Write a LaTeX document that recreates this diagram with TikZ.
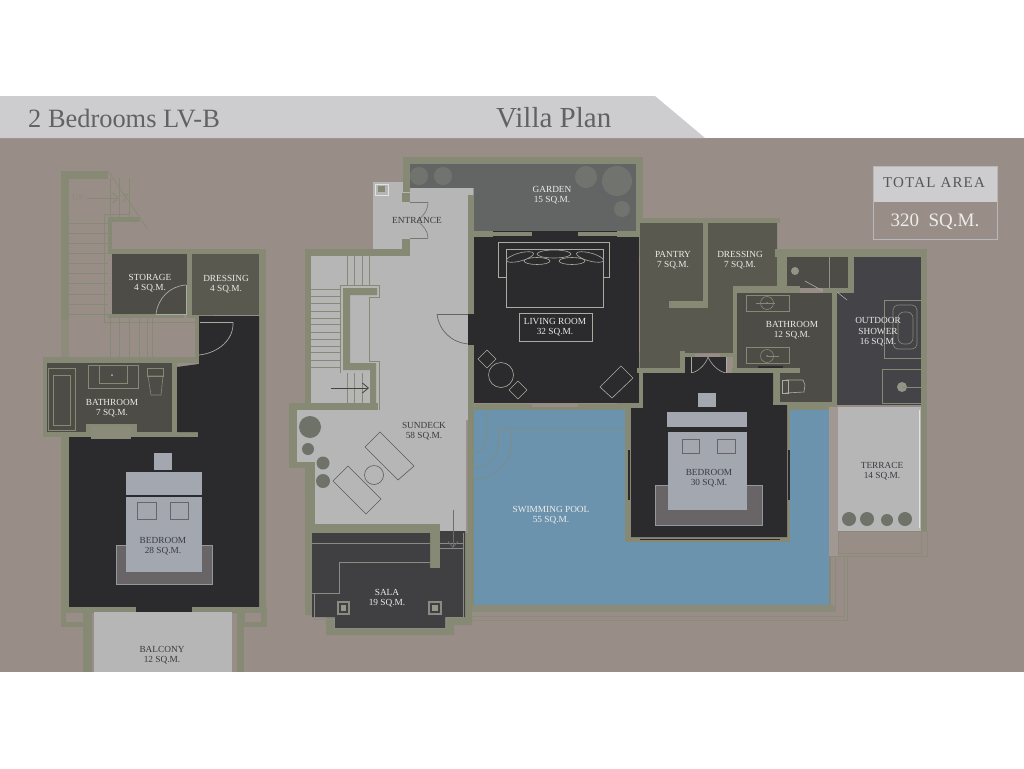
\documentclass[tikz,border=0pt]{standalone}
\usepackage{fontspec}
\setmainfont{Liberation Serif}
\usetikzlibrary{arrows.meta}
\definecolor{groundc}{HTML}{988D87}
\definecolor{bandc}{HTML}{CDCDCF}
\definecolor{wallc}{HTML}{868A75}
\definecolor{deckc}{HTML}{B6B6B6}
\definecolor{blackc}{HTML}{2B2A2C}
\definecolor{roomc}{HTML}{4E4C46}
\definecolor{pantryc}{HTML}{5A594F}
\definecolor{showerc}{HTML}{444347}
\definecolor{salac}{HTML}{403F42}
\definecolor{gardenc}{HTML}{626564}
\definecolor{shrubc}{HTML}{71746E}
\definecolor{poolc}{HTML}{6B93AE}
\definecolor{bedc}{HTML}{A3A8B0}
\definecolor{rugc}{HTML}{696567}
\definecolor{potc}{HTML}{6E7268}
\definecolor{furnc}{HTML}{ABACA0}
\definecolor{darktext}{HTML}{3A3A40}
\definecolor{lighttext}{HTML}{ECECE8}
\tikzset{
  wall/.style={fill=wallc},
  thinline/.style={draw=#1, line width=0.7pt},
  thinline/.default=wallc,
  furn/.style={draw=#1, line width=0.6pt},
  furn/.default=furnc,
  lbl/.style={font=\fontsize{9.3}{10.6}\selectfont, align=center, inner sep=0pt},
  darklbl/.style={lbl, text=darktext},
  lightlbl/.style={lbl, text=lighttext},
  openarrow/.style={-{Straight Barb[length=6pt,width=10pt]}, line width=0.8pt},
}
\begin{document}
\begin{tikzpicture}[x=1pt,y=-1pt]
    \useasboundingbox (0,0) rectangle (1024,768);
    \fill[white] (0,0) rectangle (1024,768);
    % Ground and title band
    \fill[groundc] (0,138) rectangle (1024,672);
    \fill[bandc] (0,96) -- (655,96) -- (705,138) -- (0,138) -- cycle;
    \node[text=black!52!bandc, font=\fontsize{26.4}{28}\selectfont, anchor=west, inner sep=0pt] (plantype) at (28,119) {2 Bedrooms LV-B};
    \node[text=black!52!bandc, font=\fontsize{29}{31}\selectfont, anchor=west, inner sep=0pt] (plantitle) at (496,118) {Villa Plan};

    % Total area box
    \fill[bandc] (873,166) rectangle (997,202);
    \draw[draw=black!10!bandc, line width=0.8pt] (873,166) rectangle (997,239);
    \node[text=black!58!bandc, font=\fontsize{15}{17}\selectfont\addfontfeature{LetterSpace=8}] (totaltitle) at (934,183) {TOTAL AREA};
    \node[text=lighttext, font=\fontsize{19}{21}\selectfont] (totalvalue) at (935,222) {320\ \ SQ.M.};

    % Left plan: walls
    \fill[wall] (61,171) rectangle (69,320);
    \fill[wallc!60!groundc] (61,320) rectangle (69,357);
    \fill[wall] (61,171) rectangle (108,179);
    \fill[wall] (108,217) rectangle (140,222);
    \fill[wall] (108,217) rectangle (112,254);
    \fill[wall] (108,249) rectangle (266,254);
    \fill[wall] (108,314) rectangle (184,318);
    \fill[wall] (187,254) rectangle (192,318);
    \fill[wall] (192,315) rectangle (214,318);
    \fill[wall] (259,249) rectangle (266,612);
    \fill[wall] (43,357) rectangle (198,363);
    \fill[wall] (195,317) rectangle (199,363);
    \fill[wall] (43,357) rectangle (47,436);
    \fill[wall] (43,432) rectangle (198,437);
    \fill[wall] (61,432) rectangle (69,612);
    \fill[wall] (172,360) rectangle (177,437);

    % Left plan: floors
    \fill[roomc] (112,254) rectangle (187,314);
    \fill[pantryc] (192,254) rectangle (259,315);
    \fill[blackc] (199,316) -- (259,316) -- (259,612) -- (69,612) -- (69,437) -- (198,437) -- (198,432) -- (177,432) -- (177,367) -- (199,364) -- cycle;
    \fill[roomc] (47,363) rectangle (172,432);
    \fill[wall] (61,607) rectangle (92,627);
    \fill[wall] (237,607) rectangle (267,627);
    \fill[groundc] (66,613) rectangle (83,622);
    \fill[groundc] (245,613) rectangle (261,622);
    \fill[wall] (92,607) rectangle (136,612);
    \fill[wall] (192,607) rectangle (237,612);
    \fill[wall] (83,612) rectangle (92,672);
    \fill[wall] (237,612) rectangle (244,672);
    \fill[deckc] (94,612) rectangle (232,672);

    % Left plan: stairs
    \foreach \ys in {223,233,243,253,263,273,283,294,304,314} {
        \draw[thinline] (69,\ys) -- (108,\ys);
    }
    \foreach \xs in {110,119,129,139,147,152} {
        \draw[thinline] (\xs,318) -- (\xs,357);
    }
    \foreach \xs in {110,119,129} {
        \draw[thinline] (\xs,178) -- (\xs,217);
    }
    \draw[thinline] (104,214) -- (130,214);
    \draw[thinline] (104,214) -- (104,322) -- (195,322);
    \draw[thinline] (108,171) -- (147,228);
    \node[text=wallc!55!groundc, font=\fontsize{9}{10}\selectfont] (upmark) at (78,198) {UP};
    \coordinate (upstart) at (87,198);
    \coordinate (upend) at (119,198);
    \draw[openarrow, wallc] (upstart) -- (upend);
    \draw[thinline] (123,202) -- (128,194) -- (122,196);

    % Left plan: doors
    \draw[thinline=furnc] (186,285) -- (186,314) -- (156,314);
    \draw[thinline=furnc] (156,314) .. controls (158,298) and (170,286) .. (186,285);
    \draw[thinline=furnc] (200,322) -- (233,322);
    \draw[thinline=furnc] (233,322) .. controls (234,340) and (218,353) .. (199,355);

    % Left plan: bathroom fixtures
    \draw[furn=wallc] (48,368) rectangle (75,430);
    \draw[furn=wallc] (53,375) rectangle (70,425);
    \draw[furn=wallc] (88,365) rectangle (138,388);
    \draw[furn=wallc] (99,365) rectangle (127,383);
    \fill[white!60!roomc] (112,375) circle (1);
    \draw[furn=wallc] (147,368) rectangle (163,376);
    \draw[furn=wallc] (148,376) -- (163,376) -- (161,395) -- (151,395) -- cycle;
    \fill[wall] (86,424) rectangle (137,432);
    \fill[wallc!80!groundc] (91,426) rectangle (131,439);

    % Left plan: bed
    \fill[rugc] (116,545) rectangle (212,584);
    \draw[draw=black!10!bedc, line width=0.4pt] (116,545) rectangle (212,584);
    \fill[bedc] (154,453) rectangle (172,470);
    \fill[bedc] (126,472) rectangle (202,495);
    \fill[bedc] (126,497) rectangle (202,572);
    \draw[thinline=rugc] (137,502) rectangle (156,519);
    \draw[thinline=rugc] (170,502) rectangle (188,519);

    % Middle plan: deck floor and walls
    \fill[deckc] (373,182) -- (404,182) -- (404,188) -- (473,188) -- (473,420) -- (466,420) -- (466,531) -- (440,531) -- (440,524) -- (315,524) -- (315,462) -- (297,462) -- (297,410) -- (311,410) -- (311,256) -- (373,256) -- cycle;
    \fill[wall] (305,249) rectangle (409,256);
    \fill[wall] (305,249) rectangle (311,409);
    \fill[wall] (289,403) rectangle (378,410);
    \fill[wall] (289,403) rectangle (297,468);
    \fill[wall] (289,462) rectangle (313,468);
    \fill[wall] (305,462) rectangle (315,535);
    \fill[wall] (305,524) rectangle (440,533);
    \fill[wall] (430,524) rectangle (440,568);
    \fill[wall] (403,157) rectangle (643,164);
    \fill[wall] (403,157) rectangle (410,192);
    \fill[wall] (402,193) rectangle (410,202);
    \fill[wall] (402,239) rectangle (410,256);
    \fill[wall] (468,195) rectangle (474,314);
    \fill[wall] (468,345) rectangle (474,612);
    \draw[thinline=white!60!deckc] (375,184) rectangle (388,195);
    \fill[wall] (378,186) rectangle (385,192);

    % Middle plan: stairs
    \foreach \ys in {289,296,303,311,318,324,332,339,346,352,360,367} {
        \draw[thinline] (311,\ys) -- (340,\ys);
    }
    \foreach \xs in {347,354,362,369} {
        \draw[thinline] (\xs,256) -- (\xs,285);
    }
    \foreach \xs in {347,354,362} {
        \draw[thinline] (\xs,373) -- (\xs,403);
    }
    \draw[thinline] (340,373) -- (340,285) -- (379,285) -- (379,297) -- (369,297) -- (369,361) -- (379,361) -- (379,410);
    \fill[wall] (343,288) -- (377,288) -- (377,295) -- (350,295) -- (350,363) -- (376,363) -- (376,403) -- (370,403) -- (370,370) -- (343,370) -- cycle;
    \coordinate (stairstart) at (331,388);
    \coordinate (stairend) at (369,388);
    \draw[openarrow, black!50!wallc] (stairstart) -- (stairend);

    % Middle plan: entrance and sundeck door
    \draw[thinline=black!35!deckc] (410,202) -- (428,202);
    \draw[thinline=black!35!deckc] (428,202) .. controls (428,210) and (423,217) .. (417,221);
    \draw[thinline=black!35!deckc] (410,238) -- (428,238);
    \draw[thinline=black!35!deckc] (428,238) .. controls (428,231) and (423,225) .. (417,221);
    \draw[thinline=black!45!deckc] (437,314) -- (468,314);
    \draw[thinline=black!45!deckc] (437,314) .. controls (439,331) and (452,343) .. (469,344);

    % Middle plan: sundeck furniture
    \fill[potc] (310,427) circle (11);
    \fill[potc] (308,449) circle (6);
    \fill[potc] (323,463) circle (6.5);
    \fill[potc] (323,481) circle (7);
    \draw[furn=black!50!deckc] (380,432) -- (414,466) -- (398,480) -- (365,447) -- cycle;
    \draw[furn=black!50!deckc] (348,466) -- (381,499) -- (366,514) -- (333,481) -- cycle;
    \draw[furn=black!50!deckc] (374,475) circle (9.5);
    \coordinate (stepstart) at (453,510);
    \coordinate (stepend) at (453,548);

    % Middle plan: sala
    \fill[wall] (305,533) -- (305,615) -- (326,617) -- (326,635) -- (454,635) -- (454,625) -- (472,625) -- (472,533) -- cycle;
    \fill[salac] (312,533) -- (312,617) -- (335,617) -- (335,628) -- (445,628) -- (445,617) -- (465,617) -- (465,531) -- (440,531) -- (440,568) -- (430,568) -- (430,533) -- cycle;
    \draw[thinline=furnc!70!salac] (312,543) -- (430,543);
    \draw[thinline=furnc!70!salac] (440,543) -- (463,543);
    \draw[thinline=furnc!70!salac] (440,548) -- (463,548);
    \draw[thinline=furnc!70!salac] (430,562) -- (339,562) -- (339,593) -- (312,593);
    \draw[thinline=furnc!70!salac] (314,593) -- (314,619) -- (334,619) -- (334,630);
    \draw[thinline=furnc!70!salac] (334,628) -- (446,628) -- (446,617) -- (463,617) -- (463,533);
    \draw[openarrow, black!40!deckc] (stepstart) -- (stepend);
    \fill[furnc!70!salac] (337,601) rectangle (350,615);
    \fill[salac] (339,603) rectangle (348,613);
    \fill[wallc!70!deckc] (341,605) rectangle (346,611);
    \fill[furnc!70!salac] (428,601) rectangle (442,615);
    \fill[salac] (430,603) rectangle (440,613);
    \fill[wallc!70!deckc] (432,605) rectangle (438,611);

    % Garden
    \fill[gardenc] (410,164) rectangle (636,188);
    \fill[gardenc] (474,188) rectangle (636,231);
    \fill[shrubc] (419,176) circle (9);
    \fill[shrubc] (443,176) circle (9);
    \fill[shrubc] (586,177) circle (11);
    \fill[shrubc] (617,181) circle (15);
    \fill[shrubc] (622,209) circle (8);
    \fill[wall] (636,157) rectangle (643,257);

    % Living room
    \fill[blackc] (468,237) rectangle (639,403);
    \fill[blackc] (474,231) rectangle (636,237);
    \fill[wall] (468,195) rectangle (474,314);
    \fill[wall] (468,345) rectangle (474,405);
    \fill[wall] (474,231) rectangle (493,237);
    \fill[wall] (493,232) rectangle (532,236);
    \fill[wall] (578,232) rectangle (617,236);
    \fill[wall] (617,231) rectangle (643,237);
    \fill[wall] (639,231) rectangle (646,257);
    \fill[wall] (639,352) rectangle (646,408);
    \fill[wall] (468,407) rectangle (646,410);
    \fill[wall] (475,404) rectangle (532,408);
    \fill[wall] (578,404) rectangle (617,408);
    \fill[wall] (617,403) rectangle (642,408);
    \draw[furn] (506,277) -- (498,277) -- (498,242) -- (609,242) -- (609,277) -- (603,277);
    \draw[furn] (506,249) rectangle (603,307);
    \draw[furn, fill=blackc] (537,261) ellipse [x radius=13, y radius=3.5];
    \draw[furn, fill=blackc] (572,261) ellipse [x radius=13, y radius=3.5];
    \draw[furn, fill=blackc] (520,257) ellipse [x radius=14, y radius=4, rotate=15];
    \draw[furn, fill=blackc] (590,257) ellipse [x radius=14, y radius=4, rotate=-15];
    \draw[furn, fill=blackc] (554,254) ellipse [x radius=17, y radius=4];
    \draw[furn] (519,313) rectangle (592,341);
    \draw[furn] (501,375) circle (12.5);
    \draw[furn] (487,350) -- (496,359) -- (487,368) -- (478,359) -- cycle;
    \draw[furn] (518,381) -- (527,390) -- (518,399) -- (509,390) -- cycle;
    \draw[furn] (621,366) -- (633,378) -- (612,398) -- (600,387) -- cycle;

    % Pantry, dressing and bathroom floors
    \fill[pantryc] (640,223) -- (777,223) -- (777,286) -- (733,286) -- (733,353) -- (680,353) -- (680,368) -- (640,368) -- cycle;
    \fill[roomc] (737,293) rectangle (832,368);
    \fill[roomc] (780,368) rectangle (832,402);
    \fill[roomc] (787,254) rectangle (829,288);
    \fill[roomc] (830,257) rectangle (848,288);
    \fill[showerc] (854,257) rectangle (921,290);
    \fill[showerc] (837,290) rectangle (921,405);
    \fill[wall] (640,218) rectangle (780,223);
    \fill[wall] (703,223) rectangle (708,308);
    \fill[wall] (669,301) rectangle (708,308);
    \fill[wall] (775,249) rectangle (927,257);
    \fill[wall] (777,249) rectangle (787,290);
    \fill[wall] (848,257) rectangle (854,293);
    \fill[wall] (823,288) rectangle (854,293);
    \fill[wall] (733,286) rectangle (800,293);
    \fill[wall] (733,286) rectangle (737,373);
    \fill[wall] (921,249) rectangle (927,531);
    \fill[wall] (832,290) rectangle (837,410);
    \fill[wall] (780,402) rectangle (837,410);
    \fill[wall] (773,371) rectangle (780,410);
    \fill[wall] (732,368) rectangle (800,373);
    \fill[wall] (680,351) rectangle (685,373);
    \fill[wall] (637,368) rectangle (683,373);
    \fill[wall] (685,353) rectangle (695,357);
    \fill[wall] (720,353) rectangle (733,357);
    \fill[blackc] (685,357) rectangle (727,373);
    \draw[furn] (691,373) .. controls (697,372) and (705,366) .. (708,357);
    \draw[furn] (726,373) .. controls (720,372) and (712,366) .. (708,357);
    \draw[furn] (691,357) -- (691,373);
    \draw[furn] (726,357) -- (726,373);

    % Bathroom and shower fixtures
    \draw[furn=wallc] (746,295) rectangle (789,311);
    \draw[furn=wallc] (767,303) circle (6.5);
    \fill[wallc] (767,303) circle (1);
    \draw[furn=wallc] (756,303) -- (775,303);
    \draw[furn=wallc] (746,347) rectangle (789,363);
    \draw[furn=wallc] (767,356) circle (6.5);
    \fill[wallc] (767,356) circle (1);
    \draw[furn=wallc] (767,356) -- (779,356);
    \fill[blackc] (758,366) rectangle (783,368);
    \draw[furn] (782,380) rectangle (788,393);
    \draw[furn] (786,380) -- (803,380) -- (805,385) -- (804,392) -- (786,393);
    \draw[furn] (805,281) -- (823,291);
    \draw[furn] (837,292) -- (847,300);
    \fill[wallc!75!deckc] (795,271) circle (4);
    \draw[furn=wallc] (921,300) -- (884,300) -- (884,358) -- (921,358);
    \draw[furn=wallc, rounded corners=5pt] (893,305) rectangle (917,349);
    \draw[furn=wallc, rounded corners=6pt] (898,312) rectangle (913,344);
    \draw[furn=wallc] (921,369) -- (882,369) -- (882,403) -- (921,403);
    \fill[wallc!75!deckc] (902,387) circle (5);
    \draw[furn=wallc] (902,387) -- (921,387);

    % Pool, deck edge and terrace
    \fill[poolc] (474,410) rectangle (829,605);
    \fill[wallc!75!groundc] (472,605) rectangle (835,612);
    \fill[wall] (829,409) rectangle (831,605);
    \draw[thinline=wallc!80!groundc] (472,620) -- (847,620) -- (847,557);
    \draw[thinline=wallc!80!groundc] (472,616) -- (844,616) -- (844,557);
    \draw[thinline=wallc!80!groundc] (835,612) -- (835,557);
    \draw[thinline=wallc!70!poolc] (486,410) -- (486,440);
    \draw[thinline=wallc!70!poolc] (486,440) .. controls (486,447) and (481,453) .. (474,454);
    \draw[thinline=wallc!70!poolc] (625,428) -- (498,428) -- (498,445);
    \draw[thinline=wallc!70!poolc] (498,445) .. controls (498,457) and (487,467) .. (474,468);
    \draw[thinline=wallc!70!poolc] (511,428) -- (511,445);
    \draw[thinline=wallc!70!poolc] (511,445) .. controls (511,464) and (494,479) .. (474,479);
    \fill[groundc!90!white] (829,407) rectangle (838,556);
    \fill[deckc] (838,407) rectangle (921,531);
    \draw[thinline=white!60!deckc] (919,410) -- (919,528);
    \draw[thinline=wallc!70!groundc] (838,531) -- (927,531) -- (927,556) -- (829,556);
    \draw[thinline=wallc!70!groundc] (838,531) -- (838,553) -- (921,553) -- (921,531);
    \fill[potc] (849,519) circle (7);
    \fill[potc] (867,519) circle (7);
    \fill[potc] (887,520) circle (6);
    \fill[potc] (905,519) circle (7);

    % Pool bedroom
    \fill[wall] (625,403) rectangle (646,410);
    \fill[wall] (625,410) rectangle (790,542);
    \fill[blackc] (643,373) -- (773,373) -- (773,402) -- (787,402) -- (787,537) -- (631,537) -- (631,408) -- (643,408) -- cycle;
    \fill[wall] (773,402) rectangle (790,405);
    \fill[blackc] (628,450) rectangle (630,500);
    \fill[blackc] (788,450) rectangle (790,500);
    \fill[blackc] (640,539) rectangle (780,540);
    \fill[rugc] (655,485) rectangle (762,525);
    \draw[draw=black!10!bedc, line width=0.4pt] (655,485) rectangle (762,525);
    \fill[bedc] (698,393) rectangle (716,407);
    \fill[bedc] (667,412) rectangle (747,427);
    \fill[bedc] (668,432) rectangle (747,510);
    \draw[thinline=rugc] (682,439) rectangle (699,453);
    \draw[thinline=rugc] (717,439) rectangle (735,453);

    % Room labels
    \node[lightlbl] (storage) at (150,283) {STORAGE\\4 SQ.M.};
    \node[lightlbl] (dressingA) at (226,284) {DRESSING\\4 SQ.M.};
    \node[lightlbl] (bathroomA) at (112,408) {BATHROOM\\7 SQ.M.};
    \node[darklbl] (bedroomA) at (163,546) {BEDROOM\\28 SQ.M.};
    \node[darklbl] (balcony) at (162,655) {BALCONY\\12 SQ.M.};
    \node[darklbl] (entrance) at (417,220) {ENTRANCE};
    \node[darklbl] (sundeck) at (424,431) {SUNDECK\\58 SQ.M.};
    \node[lightlbl] (sala) at (387,598) {SALA\\19 SQ.M.};
    \node[lightlbl] (garden) at (552,195) {GARDEN\\15 SQ.M.};
    \node[lightlbl] (living) at (555,327) {LIVING ROOM\\32 SQ.M.};
    \node[lightlbl] (pantry) at (673,260) {PANTRY\\7 SQ.M.};
    \node[lightlbl] (dressingB) at (740,260) {DRESSING\\7 SQ.M.};
    \node[lightlbl] (bathroomB) at (792,330) {BATHROOM\\12 SQ.M.};
    \node[lightlbl] (shower) at (878,332) {OUTDOOR\\SHOWER\\16 SQ.M.};
    \node[darklbl] (bedroomB) at (709,478) {BEDROOM\\30 SQ.M.};
    \node[lightlbl] (pool) at (551,515) {SWIMMING POOL\\55 SQ.M.};
    \node[darklbl] (terrace) at (882,471) {TERRACE\\14 SQ.M.};
\end{tikzpicture}
\end{document}
